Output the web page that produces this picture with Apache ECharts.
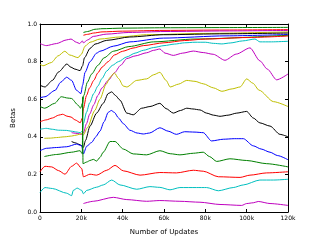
<!DOCTYPE html>
<html><head><meta charset="utf-8">
<script src="https://cdn.jsdelivr.net/npm/echarts@6/dist/echarts.min.js"></script>
<style>html,body{margin:0;padding:0;background:#fff}#c{width:321px;height:241px}</style>
</head><body><div id="c"></div>
<script>
// x in thousands of updates
const xTicks = [0, 20, 40, 60, 80, 100, 120];
const xTickLabels = ['0', '20k', '40k', '60k', '80k', '100k', '120k'];
const yTickLabels = ['0.0', '0.2', '0.4', '0.6', '0.8', '1.0'];

const line1 = [[21,0.955],[23,0.96],[26.6,0.972],[30,0.975],[40,0.978],[60,0.98],[90,0.981],[120,0.982]];
const line2 = [[21,0.94],[23,0.945],[26,0.952],[30,0.958],[40,0.962],[60,0.966],[90,0.968],[120,0.97]];
const line3 = [[0,0.896],[3,0.885],[8,0.896],[12.7,0.915],[15,0.92],[17.6,0.903],[19.2,0.896],[20.5,0.91],[21,0.90],[23,0.915],[25.8,0.934],[32,0.946],[43,0.955],[60,0.96],[90,0.963],[120,0.966]];
const line4 = [[0,0.786],[1.5,0.778],[5.5,0.795],[8.7,0.83],[12,0.855],[14.4,0.835],[18.4,0.821],[20,0.839],[21.8,0.882],[24.2,0.903],[29,0.92],[38.7,0.931],[51.6,0.943],[80,0.95],[120,0.958]];
const line5 = [[0,0.674],[2.4,0.665],[6,0.70],[9,0.745],[13,0.787],[15,0.77],[16.9,0.76],[19.4,0.752],[20.6,0.778],[21.5,0.82],[24.2,0.87],[26.6,0.893],[32.3,0.913],[43.5,0.931],[59.7,0.943],[90,0.948],[120,0.952]];
const line6 = [[0,0.608],[2.4,0.613],[7.3,0.647],[10,0.69],[12.9,0.717],[15.3,0.70],[17.7,0.647],[19.8,0.63],[20.6,0.674],[21.8,0.743],[24.2,0.80],[27.4,0.845],[29,0.855],[35.5,0.882],[43.5,0.905],[59.7,0.925],[90,0.937],[120,0.944]];
const line7 = [[0,0.561],[2.3,0.552],[7.1,0.578],[10.3,0.613],[13.5,0.606],[15.2,0.604],[18.4,0.569],[19.6,0.552],[20.6,0.58],[21.2,0.62],[22.9,0.69],[25,0.734],[28,0.78],[31,0.82],[35.5,0.855],[43,0.88],[55,0.905],[75,0.92],[120,0.94]];
const line8 = [[0,0.48],[3,0.49],[6,0.50],[9,0.515],[11,0.52],[13,0.51],[15,0.505],[17,0.49],[19.5,0.475],[20.5,0.50],[21,0.55],[22.5,0.62],[24,0.66],[26,0.70],[28,0.74],[30,0.77],[33,0.80],[36,0.835],[40,0.855],[45,0.872],[50,0.885],[60,0.90],[70,0.912],[80,0.92],[100,0.928],[120,0.936]];
const line9 = [[0,0.44],[3,0.445],[6,0.44],[9,0.435],[12.9,0.434],[15,0.43],[18,0.425],[19.4,0.422],[20.5,0.43],[21,0.47],[22.5,0.53],[24,0.58],[26,0.63],[28,0.67],[30,0.71],[32.3,0.75],[35,0.78],[38,0.80],[42,0.825],[46,0.845],[50,0.86],[55,0.875],[60,0.885],[65,0.893],[70,0.9],[75,0.903],[80,0.903],[84,0.897],[88,0.894],[92,0.899],[98,0.91],[104,0.92],[106.4,0.905],[112,0.905],[120,0.908]];
const line10 = [[15.3,0.422],[18,0.418],[20.2,0.413],[21,0.42],[22.5,0.47],[24,0.52],[26,0.57],[28,0.62],[30,0.66],[33,0.70],[36,0.74],[39,0.78],[42,0.816],[46,0.83],[51.6,0.847],[55,0.86],[58,0.867],[60.5,0.845],[64.5,0.833],[69,0.845],[74.2,0.856],[79,0.848],[83.8,0.839],[89.5,0.807],[95,0.84],[101.6,0.873],[106.4,0.804],[110,0.76],[114.5,0.703],[120,0.734]];
const line11 = [[2.1,0.392],[5,0.393],[8,0.396],[12,0.40],[15.3,0.404],[18,0.41],[20.2,0.417],[21,0.41],[23,0.45],[26.5,0.54],[29,0.60],[32,0.68],[34,0.717],[36,0.74],[38,0.71],[40.3,0.67],[42,0.665],[46.8,0.70],[51.6,0.708],[55,0.73],[58,0.743],[61,0.70],[63,0.665],[67,0.68],[71,0.70],[75,0.695],[79,0.682],[84,0.66],[88,0.642],[93,0.655],[96.8,0.665],[100,0.708],[103,0.685],[106,0.648],[113,0.587],[120,0.561]];
const line12 = [[15.3,0.375],[17,0.368],[19.4,0.358],[21,0.344],[22,0.38],[24.2,0.457],[27.4,0.526],[30.6,0.578],[33,0.63],[34.7,0.639],[36.5,0.62],[38.7,0.595],[42,0.526],[45.1,0.517],[49.2,0.552],[53.2,0.561],[58,0.578],[61,0.55],[64.5,0.526],[68,0.54],[71,0.552],[74,0.548],[77.4,0.543],[80.6,0.526],[84,0.515],[87.1,0.509],[91,0.515],[95.2,0.526],[100,0.535],[103.2,0.5],[106.4,0.474],[111.3,0.457],[116.1,0.413],[120,0.40]];
const line13 = [[0,0.326],[3.2,0.339],[8,0.343],[12.9,0.347],[17.7,0.361],[20.2,0.352],[21,0.309],[22.6,0.35],[25,0.37],[27,0.40],[29,0.43],[31,0.48],[33,0.53],[34.5,0.54],[36,0.53],[38,0.50],[40.3,0.47],[43.5,0.435],[47,0.42],[50,0.415],[53,0.42],[58,0.448],[62,0.43],[66,0.413],[70,0.427],[75,0.425],[79,0.422],[83,0.378],[88.7,0.387],[94,0.39],[98.4,0.39],[103.2,0.352],[107,0.335],[111.3,0.318],[115,0.30],[120,0.278]];
const line14 = [[2.1,0.295],[8.1,0.306],[15.3,0.318],[19.4,0.326],[20.5,0.309],[20.65,0.613],[20.8,0.257],[22.6,0.266],[24.2,0.274],[25.8,0.28],[27.4,0.271],[29,0.29],[30.6,0.318],[33.9,0.375],[36.3,0.375],[40.3,0.335],[45.1,0.309],[51.6,0.304],[58,0.326],[63,0.31],[67.7,0.304],[74.2,0.3125],[79,0.318],[82,0.295],[85.5,0.269],[91.9,0.283],[100,0.274],[109.7,0.257],[120,0.24]];
const line15 = [[0,0.214],[2.4,0.243],[5.6,0.24],[9,0.22],[12.1,0.201],[15.3,0.243],[17.7,0.26],[20.2,0.231],[21,0.1875],[24.2,0.201],[27.4,0.196],[32.3,0.222],[36.3,0.248],[40.3,0.219],[48.4,0.196],[58,0.21],[66,0.208],[74.2,0.222],[79,0.217],[86.3,0.1875],[96.8,0.184],[101.6,0.196],[109.7,0.208],[120,0.214]];
const line16 = [[0,0.104],[2.4,0.13],[6,0.125],[12.9,0.10],[15.3,0.087],[16.1,0.115],[18,0.127],[20.2,0.115],[21,0.097],[22.6,0.115],[27.4,0.132],[30.6,0.144],[34.7,0.17],[38.7,0.144],[46.8,0.121],[53.2,0.135],[58,0.131],[62.9,0.118],[67.7,0.13],[75.8,0.13],[80.6,0.13],[86.3,0.113],[93.5,0.13],[98.4,0.144],[106.4,0.17],[112.9,0.17],[120,0.174]];
const line17 = [[21,0.045],[25.8,0.057],[35.5,0.078],[42,0.066],[51.6,0.057],[58,0.061],[67.7,0.057],[77.4,0.052],[87.1,0.04],[97.6,0.035],[100,0.045],[103.2,0.049],[105.6,0.056],[111.3,0.045],[120,0.035]];

const lines = [line1,line2,line3,line4,line5,line6,line7,line8,line9,line10,line11,line12,line13,line14,line15,line16,line17];
const lineColors = ['g','r','m','y','k','b','g','r','c','m','y','k','b','g','r','c','m'];
const palette = {b:'#0000ff', g:'#008000', r:'#ff0000', c:'#00bfbf', m:'#bf00bf', y:'#bfbf00', k:'#000000'};

const FONT = 'DejaVu Sans';
const tickFmtX = v => { const i = xTicks.indexOf(v); return i >= 0 ? xTickLabels[i] : ''; };
const tickFmtY = v => { const i = Math.round(v / 0.2); return yTickLabels[i] || ''; };

const baseX = {type:'value', min:0, max:120, interval:20,
  axisLine:{show:true, onZero:false, lineStyle:{color:'#000', width:1}},
  axisTick:{show:true, inside:true, length:3, lineStyle:{color:'#000'}},
  splitLine:{show:false}};
const baseY = {type:'value', min:0, max:1, interval:0.2,
  axisLine:{show:true, onZero:false, lineStyle:{color:'#000', width:1}},
  axisTick:{show:true, inside:true, length:3, lineStyle:{color:'#000'}},
  splitLine:{show:false}};

const chart = echarts.init(document.getElementById('c'), null, {renderer:'canvas'});
chart.setOption({
  animation:false,
  backgroundColor:'#fff',
  grid:{left:40, right:33, top:24, bottom:25, containLabel:false},
  xAxis:[
    Object.assign({}, baseX, {position:'bottom',
      axisLabel:{show:true, formatter:tickFmtX, fontFamily:FONT, fontSize:6, color:'#000', margin:3},
      name:'Number of Updates', nameLocation:'middle', nameGap:17,
      nameTextStyle:{fontFamily:FONT, fontSize:7, color:'#000'}}),
    Object.assign({}, baseX, {position:'top', axisLabel:{show:false}})
  ],
  yAxis:[
    Object.assign({}, baseY, {position:'left',
      axisLabel:{show:true, formatter:tickFmtY, fontFamily:FONT, fontSize:6, color:'#000', margin:3},
      name:'Betas', nameLocation:'middle', nameGap:18, nameRotate:90,
      nameTextStyle:{fontFamily:FONT, fontSize:7, color:'#000'}}),
    Object.assign({}, baseY, {position:'right', axisLabel:{show:false}})
  ],
  series: lines.map((d, i) => ({
    type:'line', data:d, xAxisIndex:0, yAxisIndex:0,
    showSymbol:false, symbol:'none', smooth:0.25, smoothMonotone:'x',
    lineStyle:{color:palette[lineColors[i]], width:1},
    z:2
  }))
});
</script>
</body></html>
